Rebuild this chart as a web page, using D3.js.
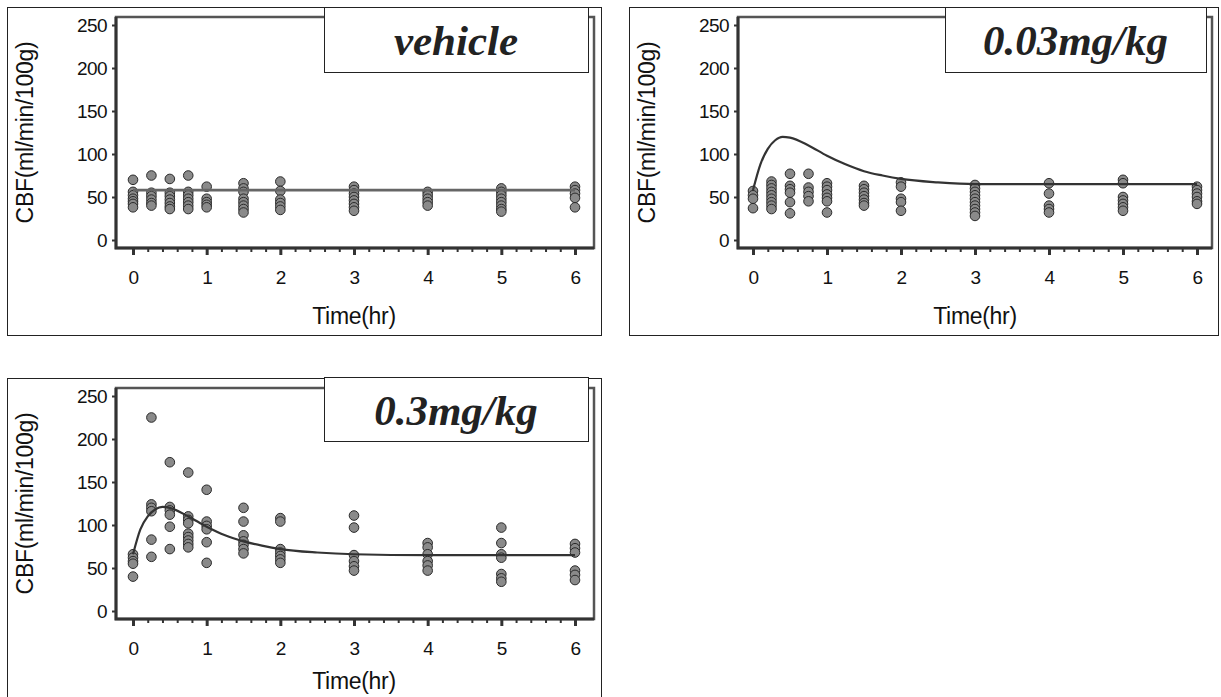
<!DOCTYPE html>
<html>
<head>
<meta charset="utf-8">
<script src="https://cdn.jsdelivr.net/npm/d3@7"></script>
<style>
  body { margin: 0; background: #fff; }
  svg { display: block; }
  .tick text { font-family: "Liberation Sans", Arial, sans-serif; font-size: 19px; fill: #111; letter-spacing: -0.6px; }
  .title { font-family: "Liberation Sans", Arial, sans-serif; font-size: 23px; fill: #111; letter-spacing: -0.3px; }
  .legend-text { font-family: "Liberation Serif", "Times New Roman", serif; font-size: 43px; font-style: italic; font-weight: bold; fill: #222; }
</style>
</head>
<body>
<svg id="chart" width="1221" height="697"></svg>
<script>
// sampling times (hr)
const timePoints = [0, 0.25, 0.5, 0.75, 1, 1.5, 2, 3, 4, 5, 6];

// observed CBF values per time point
const vehicleCBF = [
  [70, 56, 52, 48, 45, 42, 38],
  [75, 55, 51, 47, 43, 40],
  [71, 55, 51, 47, 43, 39, 36],
  [75, 56, 52, 48, 44, 40, 36],
  [62, 48, 44, 41, 38],
  [66, 60, 56, 48, 44, 40, 36, 32],
  [68, 57, 47, 43, 39, 35],
  [62, 58, 54, 50, 46, 42, 38, 34],
  [56, 52, 48, 44, 40],
  [60, 56, 52, 48, 44, 40, 36, 33],
  [62, 58, 54, 49, 38]
];
const lowDoseCBF = [
  [57, 52, 48, 37],
  [68, 64, 60, 56, 52, 48, 44, 40, 36],
  [77, 63, 59, 55, 44, 31],
  [77, 61, 56, 51, 45],
  [66, 62, 58, 53, 49, 45, 32],
  [63, 59, 55, 51, 47, 43, 40],
  [67, 62, 48, 44, 34],
  [64, 60, 56, 52, 48, 44, 40, 36, 32, 28],
  [66, 54, 40, 36, 32],
  [70, 66, 50, 46, 42, 38, 34],
  [62, 58, 54, 50, 45, 42]
];
const highDoseCBF = [
  [66, 62, 58, 55, 40],
  [225, 124, 120, 116, 83, 63],
  [173, 121, 117, 112, 98, 72],
  [161, 110, 106, 102, 90, 86, 82, 78, 74],
  [141, 104, 99, 95, 80, 56],
  [120, 104, 88, 81, 77, 72, 67],
  [108, 104, 72, 68, 64, 60, 56],
  [111, 97, 65, 58, 52, 47],
  [79, 74, 66, 58, 53, 47],
  [97, 79, 66, 62, 43, 38, 34],
  [78, 73, 68, 47, 42, 36]
];

// model fit curves [time, CBF]
const vehicleFit = [[0, 58], [1, 58], [2, 58], [3, 58], [4, 58], [5, 58], [6, 58]];
const lowDoseFit = [[0, 58], [0.1, 88], [0.2, 106], [0.3, 116], [0.4, 120], [0.5, 119], [0.75, 110],
  [1, 98], [1.25, 88], [1.5, 80], [1.75, 75], [2, 71], [2.5, 67], [3, 65], [4, 65], [5, 65], [6, 65]];
const highDoseFit = [[0, 66], [0.1, 95], [0.2, 110], [0.3, 118], [0.4, 121], [0.5, 120], [0.75, 110],
  [1, 98], [1.25, 88], [1.5, 81], [1.75, 76], [2, 72], [2.5, 68], [3, 66], [4, 65], [5, 65], [6, 65]];

const panelTitles = ['vehicle', '0.03mg/kg', '0.3mg/kg'];
const xTicks = [0, 1, 2, 3, 4, 5, 6];
const xMinorTicks = [0.2, 0.4, 0.6, 0.8, 1.2, 1.4, 1.6, 1.8, 2.2, 2.4, 2.6, 2.8, 3.2, 3.4, 3.6, 3.8,
  4.2, 4.4, 4.6, 4.8, 5.2, 5.4, 5.6, 5.8];
const yTicks = [0, 50, 100, 150, 200, 250];

// layout of each panel (pixels)
const panels = [
  { title: panelTitles[0], obs: vehicleCBF, fit: vehicleFit, fitColor: '#666', fitWidth: 2.6,
    frame: [7, 7, 601, 335], plot: [116, 17, 594, 248], xr: [133, 575], yr: [240, 25],
    legend: [324, 7, 588, 72], xTitleY: 324 },
  { title: panelTitles[1], obs: lowDoseCBF, fit: lowDoseFit, fitColor: '#333', fitWidth: 2.2,
    frame: [629, 7, 1218, 335], plot: [738, 17, 1212, 248], xr: [753, 1197], yr: [240, 25],
    legend: [945, 7, 1206, 72], xTitleY: 324 },
  { title: panelTitles[2], obs: highDoseCBF, fit: highDoseFit, fitColor: '#333', fitWidth: 2.2,
    frame: [7, 378, 601, 720], plot: [116, 388, 594, 619], xr: [133, 575], yr: [611, 396],
    legend: [324, 377, 588, 441], xTitleY: 689 }
];

const svg = d3.select('#chart');

panels.forEach(p => {
  const g = svg.append('g');
  const x = d3.scaleLinear().domain([0, 6]).range(p.xr);
  const y = d3.scaleLinear().domain([0, 250]).range(p.yr);
  const [fx0, fy0, fx1, fy1] = p.frame;
  const [px0, py0, px1, py1] = p.plot;

  // outer frame
  g.append('rect')
    .attr('x', fx0 + 0.5).attr('y', fy0 + 0.5)
    .attr('width', fx1 - fx0).attr('height', fy1 - fy0)
    .attr('fill', 'none').attr('stroke', '#222').attr('stroke-width', 1);

  // plot area border
  g.append('rect')
    .attr('x', px0).attr('y', py0)
    .attr('width', px1 - px0).attr('height', py1 - py0)
    .attr('fill', 'none').attr('stroke', '#555').attr('stroke-width', 2.5);
  // heavier left and bottom axis lines
  g.append('path')
    .attr('d', `M${px0},${py0}V${py1}H${px1}`)
    .attr('fill', 'none').attr('stroke', '#333').attr('stroke-width', 3);

  // x axis major + minor ticks
  const xAxis = g.append('g')
    .attr('transform', `translate(0,${py1 + 1})`)
    .call(d3.axisBottom(x).tickValues(xTicks).tickSize(6).tickPadding(16).tickFormat(d3.format('d')));
  xAxis.select('.domain').remove();
  xAxis.selectAll('.tick line').attr('stroke', '#333').attr('stroke-width', 3);

  const xMinor = g.append('g')
    .attr('transform', `translate(0,${py1 + 1})`)
    .call(d3.axisBottom(x).tickValues(xMinorTicks).tickSize(3).tickFormat(''));
  xMinor.select('.domain').remove();
  xMinor.selectAll('.tick line').attr('stroke', '#333').attr('stroke-width', 2);

  // y axis
  const yAxis = g.append('g')
    .attr('transform', `translate(${px0 - 1},0)`)
    .call(d3.axisLeft(y).tickValues(yTicks).tickSize(3).tickPadding(5).tickFormat(d3.format('d')));
  yAxis.select('.domain').remove();
  yAxis.selectAll('.tick line').attr('stroke', '#333').attr('stroke-width', 2);

  // axis titles
  g.append('text').attr('class', 'title')
    .attr('x', (p.xr[0] + p.xr[1]) / 2).attr('y', p.xTitleY)
    .attr('text-anchor', 'middle')
    .text('Time(hr)');

  g.append('text').attr('class', 'title')
    .attr('transform', `translate(${fx0 + 18},${(py0 + py1) / 2}) rotate(-90)`)
    .attr('text-anchor', 'middle').attr('dy', '0.35em')
    .text('CBF(ml/min/100g)');

  // observations
  const pts = [];
  timePoints.forEach((t, i) => p.obs[i].forEach(v => pts.push({ t, v })));
  g.append('g').selectAll('circle')
    .data(pts).join('circle')
    .attr('cx', d => x(d.t)).attr('cy', d => y(d.v))
    .attr('r', 4.8)
    .attr('fill', '#8a8a8a').attr('stroke', '#2a2a2a').attr('stroke-width', 1);

  // fit curve
  const line = d3.line()
    .x(d => x(d[0])).y(d => y(d[1]))
    .curve(d3.curveMonotoneX);
  g.append('path')
    .attr('d', line(p.fit))
    .attr('fill', 'none').attr('stroke', p.fitColor).attr('stroke-width', p.fitWidth);

  // legend box
  const [lx0, ly0, lx1, ly1] = p.legend;
  g.append('rect')
    .attr('x', lx0 + 0.5).attr('y', ly0 + 0.5)
    .attr('width', lx1 - lx0).attr('height', ly1 - ly0)
    .attr('fill', '#fff').attr('stroke', '#222').attr('stroke-width', 1);
  g.append('text').attr('class', 'legend-text')
    .attr('x', (lx0 + lx1) / 2).attr('y', ly0 + 48)
    .attr('text-anchor', 'middle')
    .text(p.title);
});
</script>
</body>
</html>
